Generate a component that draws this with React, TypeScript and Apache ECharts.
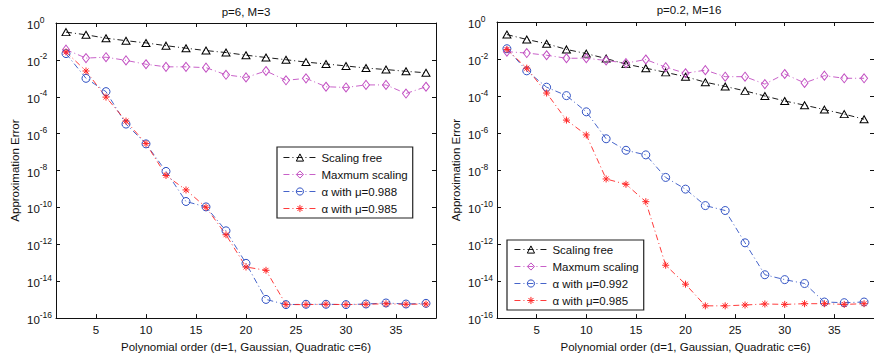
import React, { useEffect, useRef } from 'react';
import * as echarts from 'echarts';

const FONT = '"Liberation Sans", Arial, Helvetica, sans-serif';
const FS = 11.5;

// Polynomial orders (x values)
const polyOrders = [2, 4, 6, 8, 10, 12, 14, 16, 18, 20, 22, 24, 26, 28, 30, 32, 34, 36, 38];
const xTicks = [5, 10, 15, 20, 25, 30, 35];
const yTicks = [1, 1e-2, 1e-4, 1e-6, 1e-8, 1e-10, 1e-12, 1e-14, 1e-16];

// Left panel: p=6, M=3
const leftScalingFree = [0.32, 0.23, 0.15, 0.11, 0.083, 0.059, 0.043, 0.032, 0.025, 0.018, 0.0135, 0.0102, 0.0076, 0.006, 0.0047, 0.0036, 0.003, 0.0024, 0.002];
const leftMaxScaling = [0.036, 0.0125, 0.014, 0.0094, 0.0058, 0.0042, 0.0042, 0.0038, 0.00155, 0.00112, 0.0025, 0.00078, 0.001, 0.00035, 0.00032, 0.00044, 0.00044, 0.00015, 0.00035];
const leftAlpha988 = [0.022, 0.001, 1.9e-4, 3.3e-6, 2.8e-7, 9e-9, 2.1e-10, 1.07e-10, 5.4e-12, 9.3e-14, 1.03e-15, 5.4e-16, 5.6e-16, 5.6e-16, 5.4e-16, 5.8e-16, 6.6e-16, 5.8e-16, 6.3e-16];
const leftAlpha985 = [0.027, 0.0025, 9.6e-5, 4.8e-6, 2.9e-7, 5.4e-9, 8.9e-10, 1.02e-10, 3.3e-12, 5.9e-14, 3.9e-14, 5.4e-16, 5.4e-16, 5.6e-16, 5.4e-16, 5.6e-16, 6e-16, 5.6e-16, 5.8e-16];

// Right panel: p=0.2, M=16
const rightScalingFree = [0.21, 0.114, 0.067, 0.033, 0.0196, 0.0106, 0.0053, 0.0032, 0.0019, 0.00111, 0.00056, 0.00033, 0.00019, 1.0e-4, 5.4e-5, 3.2e-5, 1.85e-5, 1.05e-5, 5.6e-6];
const rightMaxScaling = [0.025, 0.021, 0.016, 0.011, 0.011, 0.0083, 0.006, 0.0094, 0.0036, 0.0017, 0.0025, 0.00111, 0.00111, 0.00044, 0.00155, 0.00051, 0.00126, 0.00091, 0.00091];
const rightAlpha992 = [0.036, 0.0023, 3.0e-4, 1.05e-4, 1.4e-5, 4.9e-7, 1.17e-7, 6.6e-8, 4.0e-9, 9.3e-10, 1.2e-10, 6.5e-11, 1.17e-12, 2.2e-14, 1.2e-14, 7.4e-15, 7.4e-16, 6.8e-16, 7.4e-16];
const rightAlpha985 = [0.033, 0.0032, 1.45e-4, 5.0e-6, 7.9e-7, 3.3e-9, 1.7e-9, 1.95e-10, 7.2e-14, 6.8e-15, 4.6e-16, 4.6e-16, 5.1e-16, 5.8e-16, 5.5e-16, 6e-16, 6e-16, 5.5e-16, 6e-16];

const leftNames = ['Scaling free', 'Maxmum scaling', 'α with μ=0.988', 'α with μ=0.985'];
const rightNames = ['Scaling free', 'Maxmum scaling', 'α with μ=0.992', 'α with μ=0.985'];
const titles = ['p=6, M=3', 'p=0.2, M=16'];
const xName = 'Polynomial order (d=1, Gaussian, Quadratic c=6)';
const yName = 'Approximation Error';

const BLACK = '#000000';
const MAGENTA = '#c24fc2';
const BLUE = '#3152c4';
const RED = '#ff2626';
const DASHDOT = [6, 3, 1, 3];
const STAR = 'path://M5,0L5,10M0,5L10,5M1.5,1.5L8.5,8.5M1.5,8.5L8.5,1.5';

function pairs(vals: number[]) {
  return polyOrders.map((x, i) => [x, vals[i]]);
}

function mkSeries(name: string, vals: number[], color: string, symbol: string, size: any, idx: number) {
  return {
    type: 'line',
    name,
    xAxisIndex: idx * 2,
    yAxisIndex: idx * 2,
    data: pairs(vals),
    symbol,
    symbolSize: size,
    showSymbol: true,
    color,
    lineStyle: { color, width: 0.9, type: DASHDOT },
    itemStyle: { color: 'rgba(255,255,255,0)', borderColor: color, borderWidth: 1 },
    emphasis: { disabled: true },
    z: 2,
  };
}

export default function App() {
  const ref = useRef<HTMLDivElement>(null);
  useEffect(() => {
    const chart = echarts.init(ref.current!, null, { renderer: 'svg' });
    const grids = [
      { left: 56, top: 23, width: 380, height: 300 },
      { left: 497, top: 22, width: 385, height: 301 },
    ];
    const xAxes: any[] = [];
    const yAxes: any[] = [];
    [0, 1].forEach((g) => {
      ['bottom', 'top'].forEach((pos) => {
        const main = pos === 'bottom';
        xAxes.push({
          type: 'value',
          gridIndex: g,
          position: pos,
          min: 1,
          max: 39,
          name: main ? xName : '',
          nameLocation: 'middle',
          nameGap: 18,
          nameTextStyle: { fontSize: FS, fontFamily: FONT, color: '#111' },
          axisLine: { show: true, onZero: false, lineStyle: { color: '#111', width: 1 } },
          axisTick: { show: true, inside: true, length: 4, customValues: xTicks, lineStyle: { color: '#111' } },
          axisLabel: { show: main, customValues: xTicks, margin: 6, fontSize: FS, fontFamily: FONT, color: '#111' },
          splitLine: { show: false },
        });
      });
      ['left', 'right'].forEach((pos) => {
        const main = pos === 'left';
        yAxes.push({
          type: 'log',
          logBase: 10,
          gridIndex: g,
          position: pos,
          min: 1e-16,
          max: 1,
          name: main ? yName : '',
          nameLocation: 'middle',
          nameGap: 35,
          nameTextStyle: { fontSize: FS, fontFamily: FONT, color: '#111' },
          axisLine: { show: true, lineStyle: { color: '#111', width: 1 } },
          axisTick: { show: true, inside: true, length: 4, customValues: yTicks, lineStyle: { color: '#111' } },
          minorTick: { show: false },
          splitLine: { show: false },
          axisLabel: {
            show: main,
            customValues: yTicks,
            align: 'left',
            margin: 29,
            formatter: (v: number) => {
              const e = Math.round(Math.log10(v));
              return `{b|10}{s|${e}}`;
            },
            rich: {
              b: { fontSize: FS, fontFamily: FONT, color: '#111', lineHeight: 16, verticalAlign: 'bottom' },
              s: { fontSize: 8.5, fontFamily: FONT, color: '#111', lineHeight: 9, verticalAlign: 'top' },
            },
          },
        });
      });
    });

    const series = [
      mkSeries(leftNames[0], leftScalingFree, BLACK, 'triangle', [8, 7], 0),
      mkSeries(leftNames[1], leftMaxScaling, MAGENTA, 'diamond', [7, 9], 0),
      mkSeries(leftNames[2], leftAlpha988, BLUE, 'circle', 8, 0),
      mkSeries(leftNames[3], leftAlpha985, RED, STAR, 7, 0),
      mkSeries(rightNames[0], rightScalingFree, BLACK, 'triangle', [8, 7], 1),
      mkSeries(rightNames[1], rightMaxScaling, MAGENTA, 'diamond', [7, 9], 1),
      mkSeries(rightNames[2], rightAlpha992, BLUE, 'circle', 8, 1),
      mkSeries(rightNames[3], rightAlpha985, RED, STAR, 7, 1),
    ];

    const legendBase = {
      orient: 'vertical',
      itemWidth: 33,
      itemHeight: 9,
      itemGap: 4,
      borderColor: '#222',
      borderWidth: 1.2,
      borderRadius: 0,
      backgroundColor: '#fff',
      selectedMode: false,
      itemStyle: { color: 'rgba(255,255,255,0)', borderWidth: 1 },
      lineStyle: { type: DASHDOT, width: 0.9 },
      textStyle: { fontSize: FS, fontFamily: FONT, color: '#111', lineHeight: 13 },
    };

    const option: any = {
      animation: false,
      grid: grids,
      xAxis: xAxes,
      yAxis: yAxes,
      series,
      legend: [
        { ...legendBase, left: 277, top: 147, padding: [4, 5, 3, 6], data: leftNames },
        { ...legendBase, left: 507, top: 240, padding: [3, 5, 3, 7], data: rightNames },
      ],
      graphic: [
        { type: 'text', x: 246, y: 12, style: { text: titles[0], align: 'center', verticalAlign: 'middle', fontSize: FS, fontFamily: FONT, fill: '#111' } },
        { type: 'text', x: 689, y: 10, style: { text: titles[1], align: 'center', verticalAlign: 'middle', fontSize: FS, fontFamily: FONT, fill: '#111' } },
      ],
    };
    chart.setOption(option);
    return () => chart.dispose();
  }, []);
  return <div ref={ref} style={{ position: 'absolute', left: 0, top: 0, width: 874, height: 358, background: '#fff' }} />;
}
